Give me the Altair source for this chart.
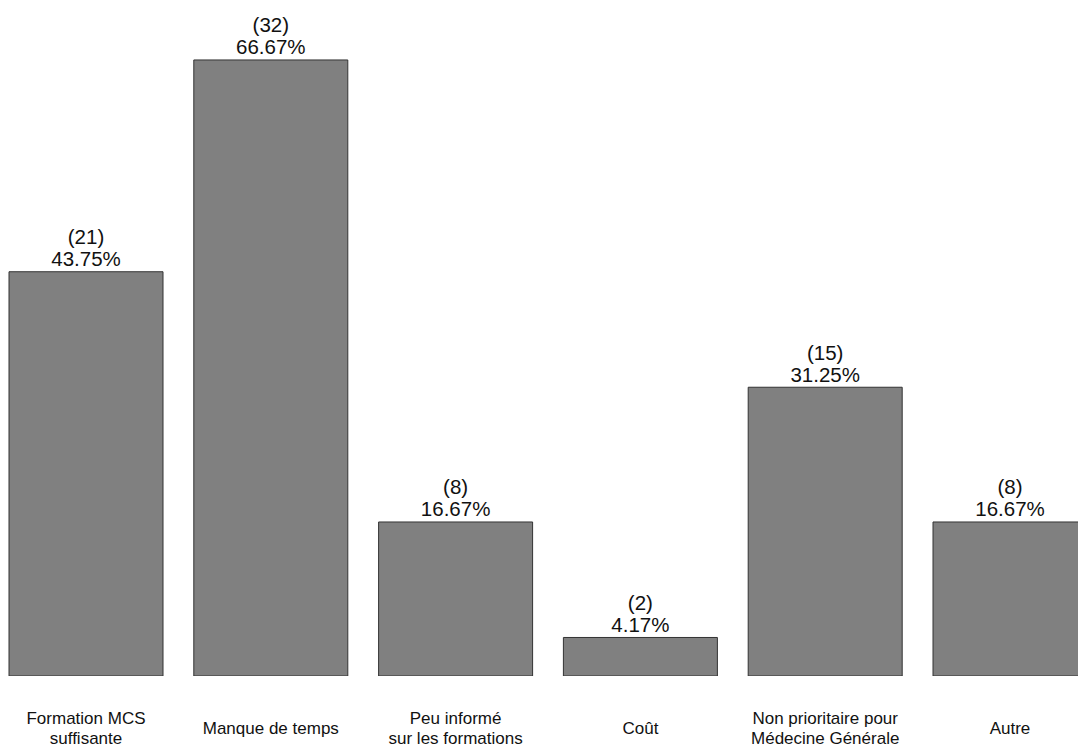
import altair as alt
import pandas as pd

# Reasons given (survey, n = 48)
categories = [
    "Formation MCS\nsuffisante",
    "Manque de temps",
    "Peu informé\nsur les formations",
    "Coût",
    "Non prioritaire pour\nMédecine Générale",
    "Autre",
]
counts = [21, 32, 8, 2, 15, 8]
percents = [43.75, 66.67, 16.67, 4.17, 31.25, 16.67]

df = pd.DataFrame({
    "cat": categories,
    "n": counts,
    "pct": percents,
})
df["label"] = ["(%d)\n%.2f%%" % (n, p) for n, p in zip(counts, percents)]
df["nlines"] = [c.count("\n") + 1 for c in categories]

FONT = "Liberation Sans"
INK = "#111111"

x_enc = alt.X(
    "cat:N",
    sort=None,
    axis=None,
    scale=alt.Scale(range=[9, 1087], paddingInner=1 / 6, paddingOuter=0),
)
y_scale = alt.Scale(domain=[0, 73.16], nice=False, zero=True)

bars = alt.Chart(df).mark_bar(
    color="#808080", stroke="#333333", strokeWidth=1, clip=True
).encode(
    x=x_enc,
    y=alt.Y("pct:Q", scale=y_scale, axis=None),
)

# "(n)" on the first line, percentage just above the bar top
values = alt.Chart(df).mark_text(
    font=FONT, fontSize=20.5, lineHeight=22, lineBreak="\n",
    baseline="alphabetic", dy=-27.5, color=INK,
).encode(
    x=x_enc,
    y=alt.Y("pct:Q", scale=y_scale),
    text="label:N",
)

# category names under the bars, one- and two-line labels centred on the same line
single = alt.Chart(df).transform_filter("datum.nlines == 1").mark_text(
    font=FONT, fontSize=17, baseline="alphabetic", color=INK,
).encode(
    x=x_enc,
    y=alt.value(734),
    text="cat:N",
)

double = alt.Chart(df).transform_filter("datum.nlines == 2").mark_text(
    font=FONT, fontSize=17, lineHeight=19.5, lineBreak="\n",
    baseline="alphabetic", color=INK,
).encode(
    x=x_enc,
    y=alt.value(724),
    text="cat:N",
)

chart = alt.layer(bars, values, single, double).properties(
    width=1078,
    height=676,
    padding={"left": 0, "top": 0, "right": 0, "bottom": 71},
    autosize=alt.AutoSizeParams(type="none"),
).configure_view(strokeWidth=0)

chart.save("out.html", embed_options={"renderer": "svg", "actions": False})
